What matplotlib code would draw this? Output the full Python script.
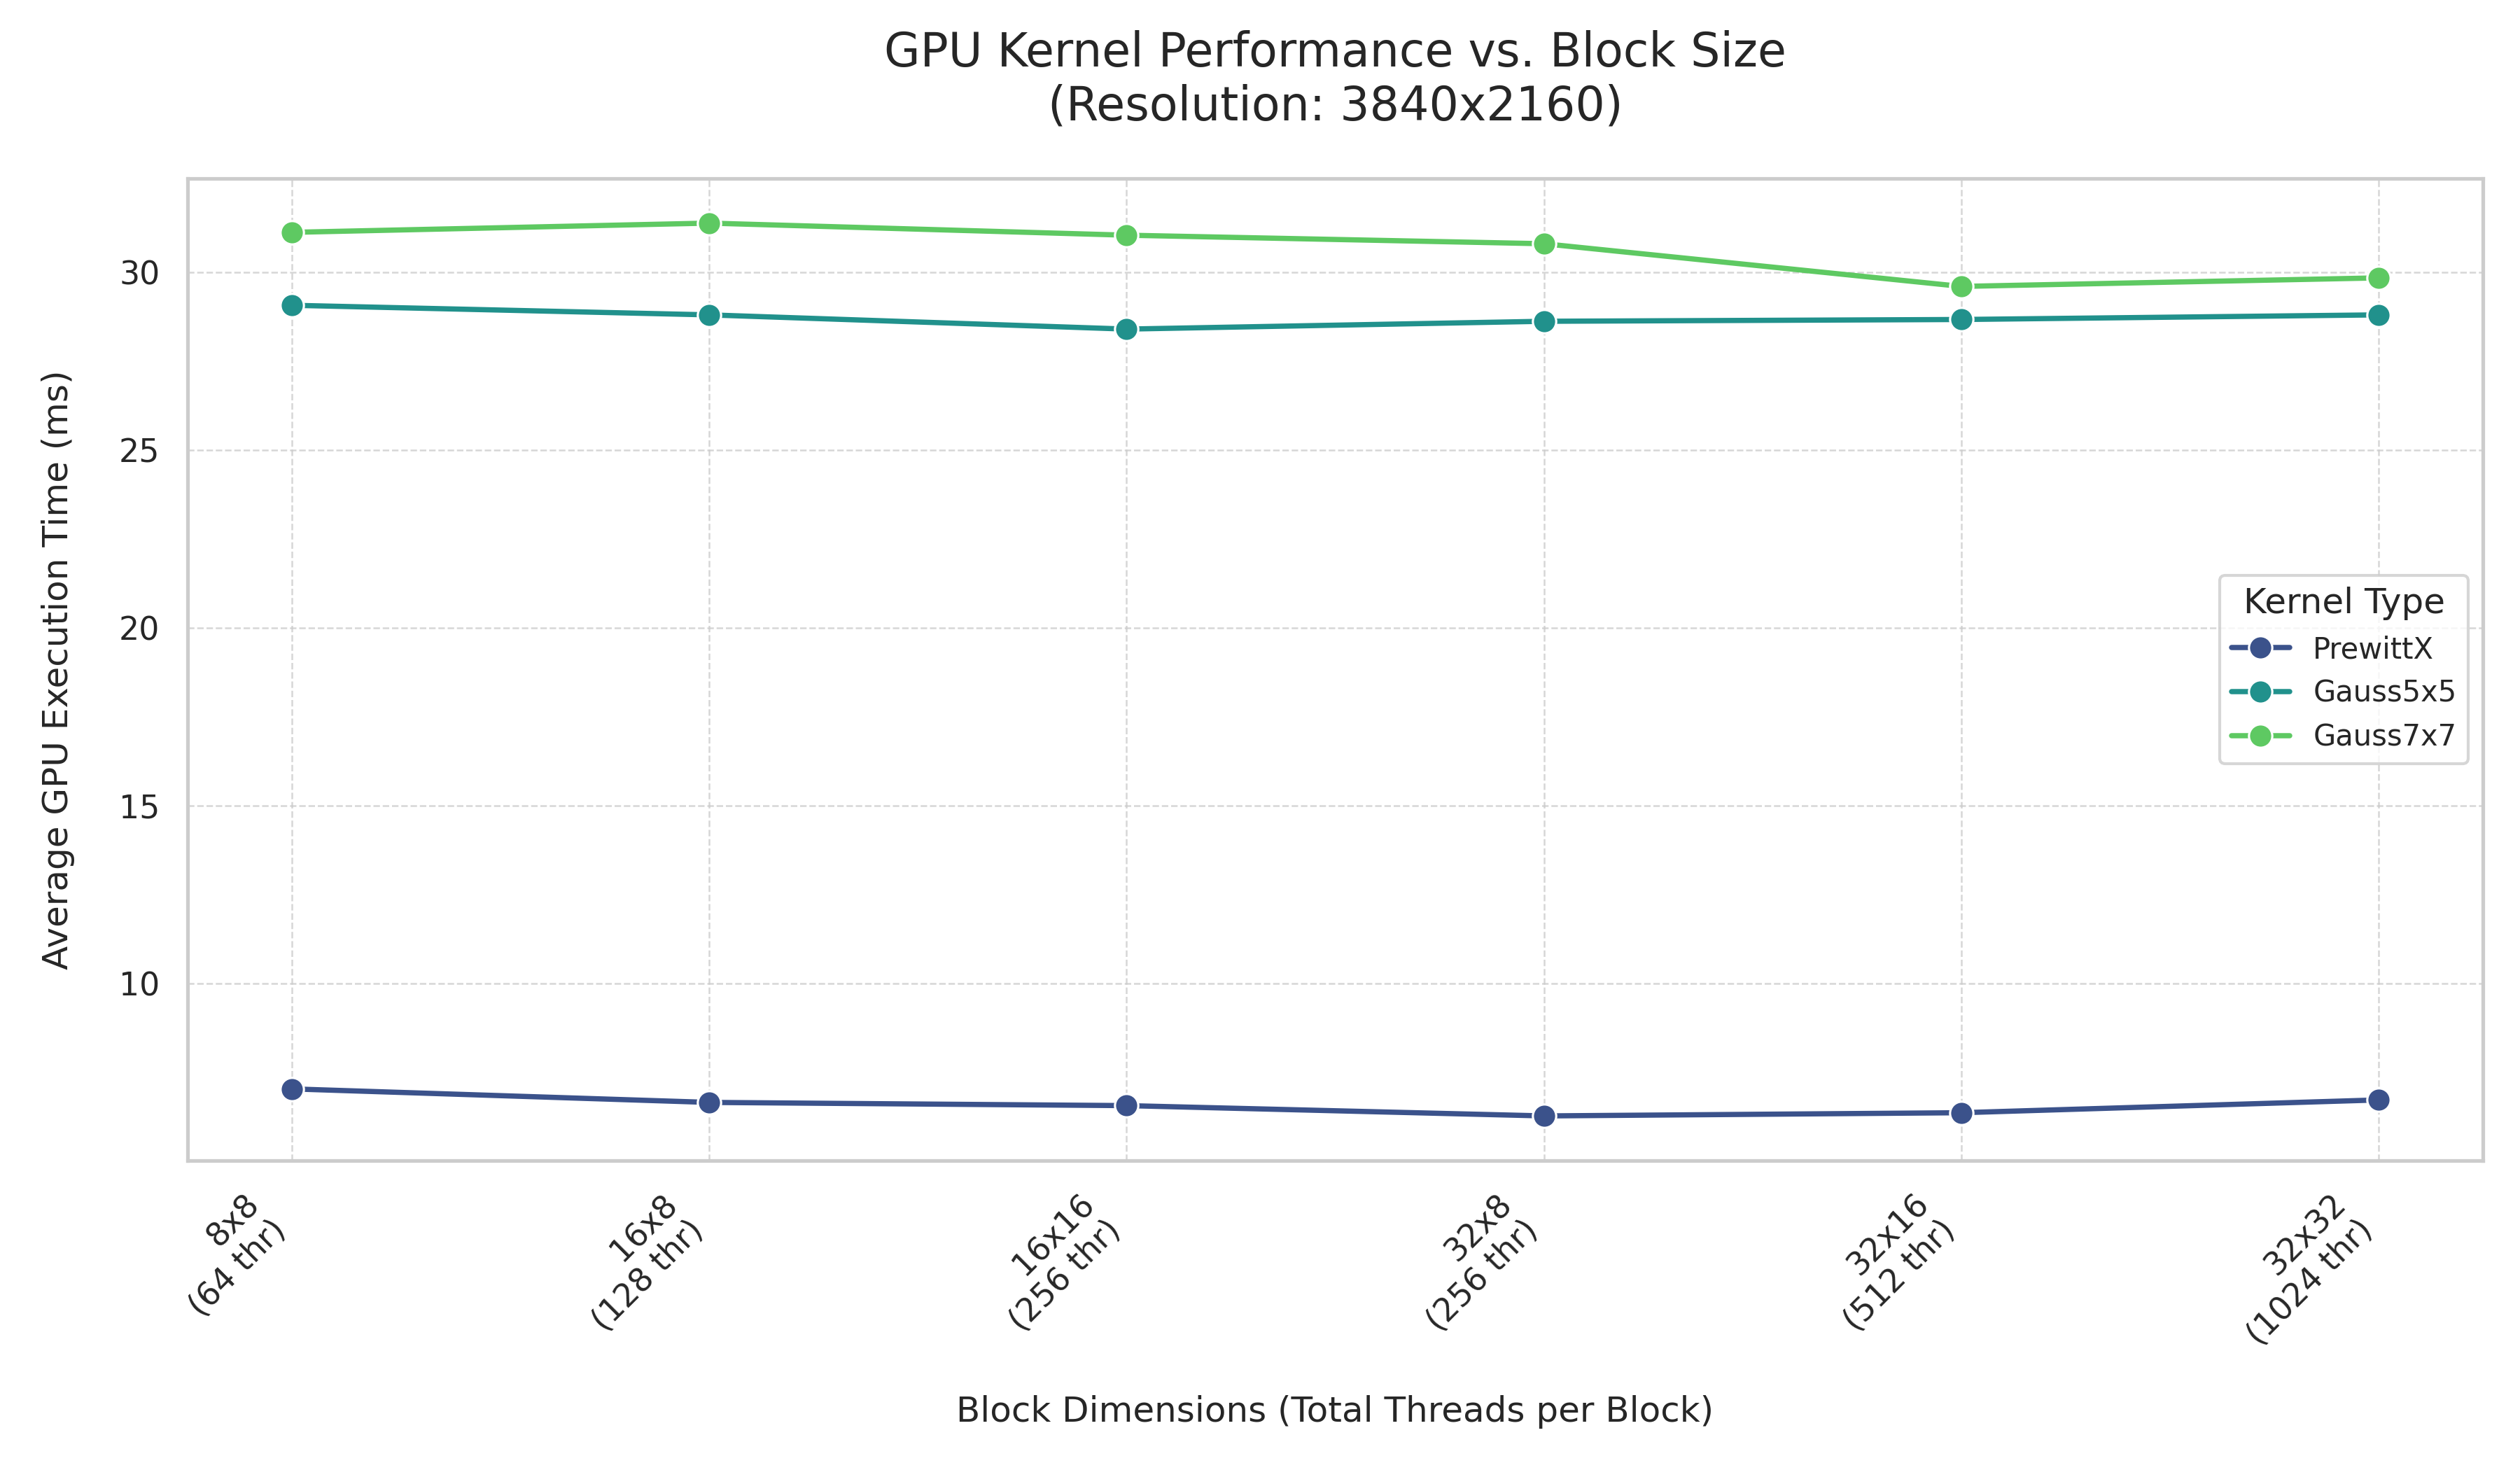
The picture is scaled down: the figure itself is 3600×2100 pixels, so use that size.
import matplotlib
matplotlib.use("Agg")
import matplotlib.pyplot as plt
import seaborn as sns
import pandas as pd

block_labels = ["8x8\n(64 thr)", "16x8\n(128 thr)", "16x16\n(256 thr)",
                "32x8\n(256 thr)", "32x16\n(512 thr)", "32x32\n(1024 thr)"]
kernels = ["PrewittX", "Gauss5x5", "Gauss7x7"]
prewittx = [7.04, 6.66, 6.57, 6.28, 6.37, 6.73]
gauss5x5 = [29.07, 28.80, 28.40, 28.62, 28.67, 28.80]
gauss7x7 = [31.12, 31.38, 31.04, 30.80, 29.60, 29.84]

rows = []
for k, vals in zip(kernels, [prewittx, gauss5x5, gauss7x7]):
    for b, v in zip(block_labels, vals):
        rows.append({"Block": b, "Time": v, "Kernel": k})
df = pd.DataFrame(rows)

sns.set_theme(style="whitegrid")
plt.rcParams['font.family'] = ['DejaVu Sans']

fig, ax = plt.subplots(figsize=(12, 7), dpi=300)
palette = sns.color_palette("viridis", 3)
sns.lineplot(data=df, x="Block", y="Time", hue="Kernel", hue_order=kernels,
             marker="o", markersize=8, linewidth=1.8, palette=palette, ax=ax,
             sort=False)

ax.set_title("GPU Kernel Performance vs. Block Size\n(Resolution: 3840x2160)",
             fontsize=16, pad=20)
ax.set_xlabel("Block Dimensions (Total Threads per Block)", fontsize=12, labelpad=15)
ax.set_ylabel("Average GPU Execution Time (ms)", fontsize=12, labelpad=15)
ax.grid(True, linestyle="--", linewidth=0.6, alpha=0.8)
plt.setp(ax.get_xticklabels(), rotation=45, ha="right")
ax.tick_params(axis='both', labelsize=11)
ax.legend(title="Kernel Type", loc="center right", fontsize=10, title_fontsize=12)

fig.subplots_adjust(left=0.0744, right=0.9853, top=0.8786, bottom=0.2105)
fig.savefig("out.png", dpi=300)
